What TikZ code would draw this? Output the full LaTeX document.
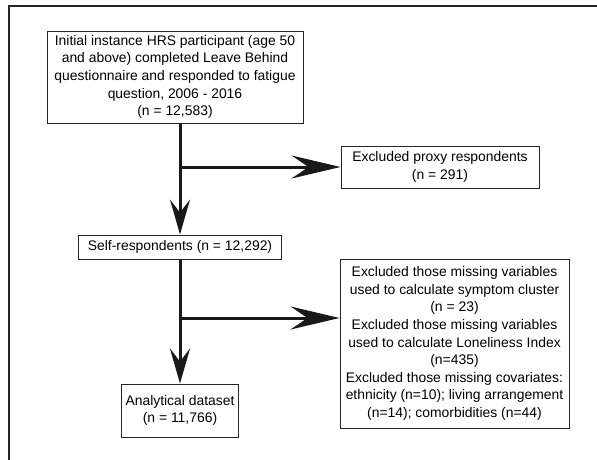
\documentclass[tikz,border=0pt]{standalone}
\usepackage{fontspec}
\setmainfont{Liberation Sans}
\usetikzlibrary{arrows.meta}
\begin{document}
\begin{tikzpicture}[x=1pt,y=-1pt,
  box/.style={draw=black!85, line width=0.9pt, inner sep=0pt, align=center,
    font=\fontsize{13.9}{17.6}\selectfont, text=black},
  conn/.style={line width=3pt, draw=black!90, -{Stealth[length=35pt,width=20pt,inset=13pt]}},
  connh/.style={line width=3pt, draw=black!90, -{Stealth[length=49pt,width=23pt,inset=17pt]}},
  frame/.style={line width=1.3pt, draw=black!85}
]
\useasboundingbox (0,0) rectangle (597,460);
\draw[frame] (597,6) -- (9,6) -- (9,460);

\node[box, minimum width=256pt, minimum height=92pt] (top) at (175,77)
  {Initial instance HRS participant (age 50\\and above) completed Leave Behind\\questionnaire and responded to fatigue\\question, 2006 - 2016\\(n = 12,583)};
\node[box, minimum width=198pt, minimum height=42pt] (proxy) at (440,167)
  {Excluded proxy respondents\\(n = 291)};
\node[box, minimum width=203pt, minimum height=24pt] (selfb) at (180,247)
  {Self-respondents (n = 12,292)};
\node[box, minimum width=229pt, minimum height=169pt] (excl) at (454.5,343.5)
  {Excluded those missing variables\\used to calculate symptom cluster\\(n = 23)\\Excluded those missing variables\\used to calculate Loneliness Index\\(n=435)\\Excluded those missing covariates:\\ethnicity (n=10); living arrangement\\(n=14); comorbidities (n=44)};
\node[box, minimum width=117pt, minimum height=53pt] (anal) at (180,410.5)
  {Analytical dataset\\(n = 11,766)};

\coordinate (b1) at (180,167);
\coordinate (b2) at (180,318);

\draw[conn] (top.south -| selfb.north) -- (selfb.north);
\draw[connh] (b1) -- (proxy.west |- b1);
\draw[conn] (selfb.south) -- (anal.north);
\draw[connh] (b2) -- (excl.west |- b2);
\end{tikzpicture}
\end{document}
